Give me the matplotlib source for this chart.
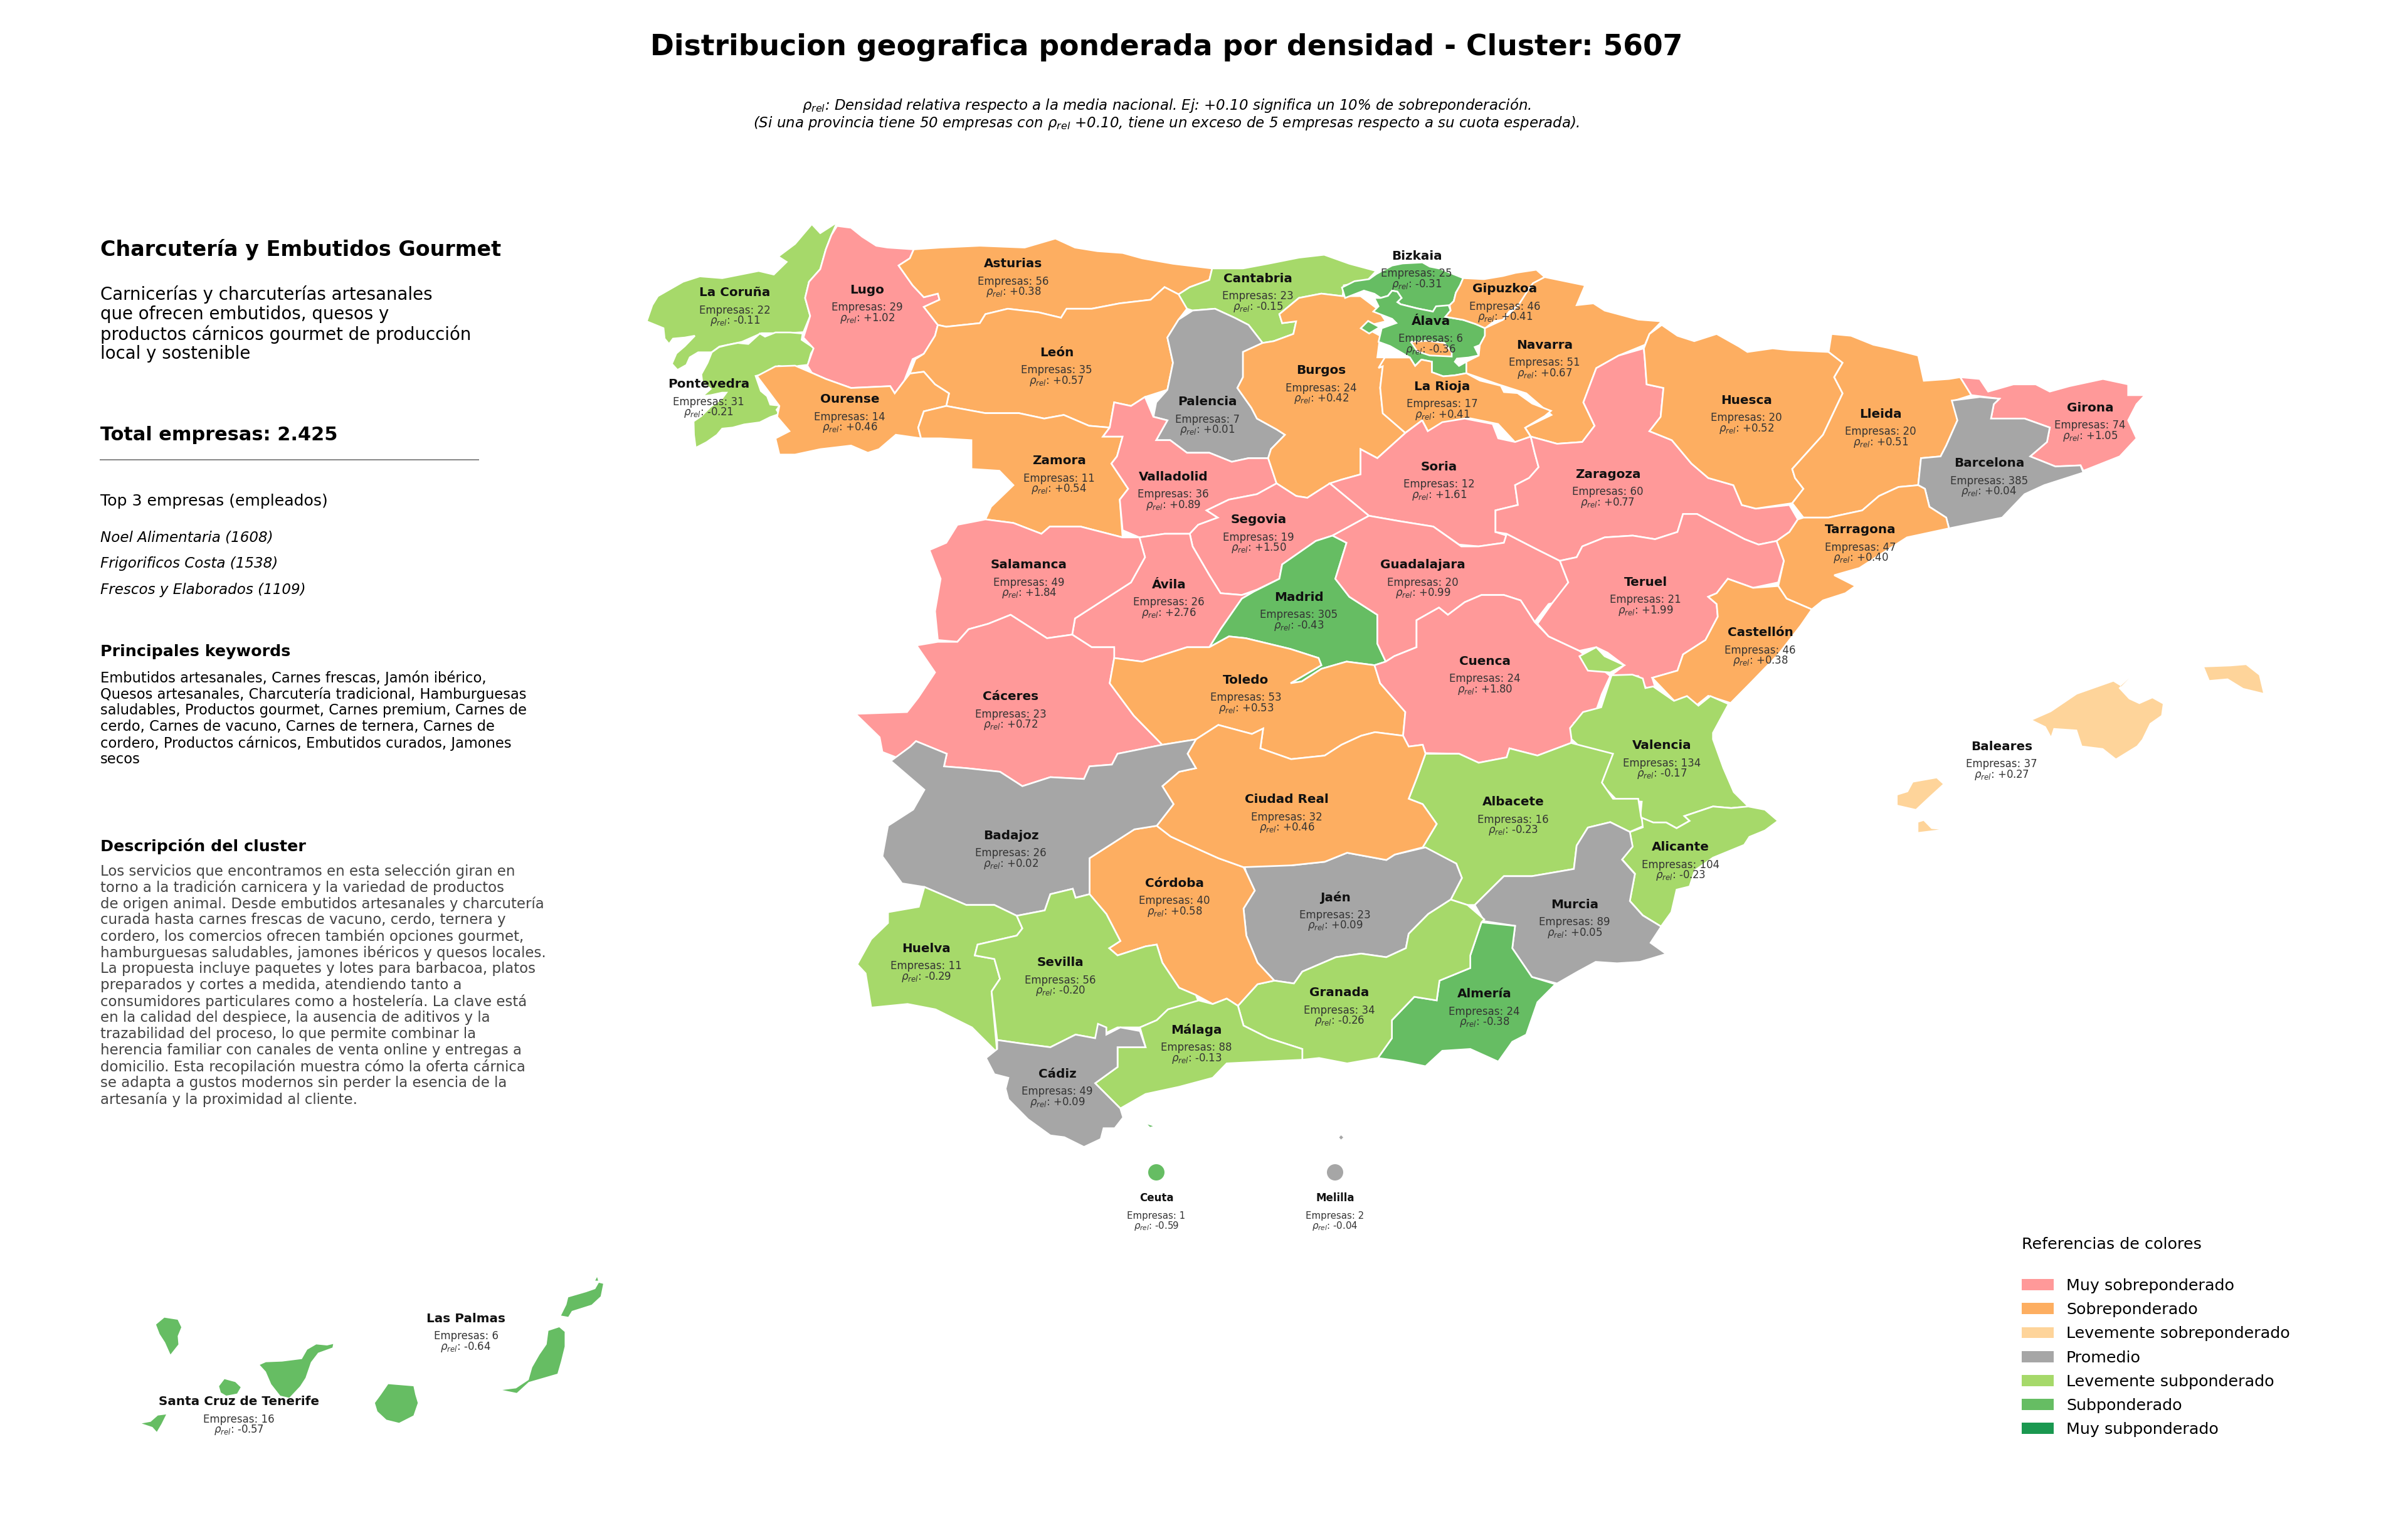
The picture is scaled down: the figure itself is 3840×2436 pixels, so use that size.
import matplotlib
matplotlib.use('Agg')
import matplotlib.pyplot as plt
import numpy as np
from matplotlib.patches import Polygon, Circle, Patch

# map frames the outlines were traced in: x0, y0, x scale, y scale (picture pixels)
NW = (1000, 320, 1.12, 1.742)
NE = (2300, 320, 1.12, 1.742)
SW = (1300, 1150, 1.12, 1.742)
SE = (2400, 1000, 1.206, 1.96)
GAL = (1020, 520, 3, 3)
BASQUE = (2120, 380, 3, 3)
CANARY = (180, 1980, 1.742, 3)
AFRICA = (1700, 1780, 2.613, 3)

# --- values ---
provinces = ['La Coruña', 'Lugo', 'Asturias', 'Cantabria', 'Bizkaia', 'Gipuzkoa', 'Pontevedra', 'Ourense',
             'León', 'Palencia', 'Burgos', 'Álava', 'La Rioja', 'Navarra', 'Zamora', 'Valladolid',
             'Segovia', 'Soria', 'Salamanca', 'Ávila', 'Madrid', 'Guadalajara', 'Toledo', 'Cáceres',
             'Cuenca', 'Huesca', 'Lleida', 'Girona', 'Barcelona', 'Zaragoza', 'Tarragona', 'Teruel',
             'Castellón', 'Valencia', 'Baleares', 'Ciudad Real', 'Albacete', 'Alicante', 'Badajoz', 'Córdoba',
             'Jaén', 'Murcia', 'Huelva', 'Sevilla', 'Granada', 'Almería', 'Málaga', 'Cádiz',
             'Ceuta', 'Melilla', 'Las Palmas', 'Santa Cruz de Tenerife']
empresas = [22, 29, 56, 23, 25, 46, 31, 14,
            35, 7, 24, 6, 17, 51, 11, 36,
            19, 12, 49, 26, 305, 20, 53, 23,
            24, 20, 20, 74, 385, 60, 47, 21,
            46, 134, 37, 32, 16, 104, 26, 40,
            23, 89, 11, 56, 34, 24, 88, 49,
            1, 2, 6, 16]
rho = [-0.11, 1.02, 0.38, -0.15, -0.31, 0.41, -0.21, 0.46,
       0.57, 0.01, 0.42, -0.36, 0.41, 0.67, 0.54, 0.89,
       1.50, 1.61, 1.84, 2.76, -0.43, 0.99, 0.53, 0.72,
       1.80, 0.52, 0.51, 1.05, 0.04, 0.77, 0.40, 1.99,
       0.38, -0.17, 0.27, 0.46, -0.23, -0.23, 0.02, 0.58,
       0.09, 0.05, -0.29, -0.20, -0.26, -0.38, -0.13, 0.09,
       -0.59, -0.04, -0.64, -0.57]

label_x = [1172, 1383, 1616, 2006, 2259, 2400, 1130, 1355,
           1685, 1925, 2107, 2282, 2300, 2463, 1689, 1871,
           2007, 2295, 1641, 1864, 2071, 2269, 1987, 1612,
           2368, 2785, 2999, 3333, 3172, 2564, 2967, 2624,
           2807, 2650, 3192, 2052, 2413, 2680, 1612, 1873,
           2129, 2511, 1477, 1691, 2136, 2367, 1908, 1686,
           1844, 2129, 743, 381]
label_y = [467, 462, 421, 444, 408, 461, 613, 637,
           562, 641, 591, 512, 616, 550, 735, 760,
           829, 744, 901, 932, 952, 901, 1084, 1111,
           1054, 638, 660, 650, 739, 756, 845, 928,
           1009, 1189, 1190, 1275, 1279, 1351, 1332, 1408,
           1431, 1442, 1512, 1535, 1583, 1585, 1642, 1712,
           1910, 1910, 2102, 2235]

bin_edges = [-0.70, -0.30, -0.10, 0.10, 0.30, 0.70]
bin_names = ['Muy subponderado', 'Subponderado', 'Levemente subponderado', 'Promedio',
             'Levemente sobreponderado', 'Sobreponderado', 'Muy sobreponderado']
bin_colors = ['#1a9850', '#66bd63', '#a6d96a', '#a6a6a6', '#fed49a', '#fdae61', '#ff9999']

# --- outlines ---
la_coruna = [(375,60),(365,95),(355,135),(345,190),(325,225),(318,270),(327,320),(315,365),(285,368),(240,368),(205,392),(165,405),(151,421),(127,421),(112,435),(106,456),(90,470),(80,453),(88,424),(103,404),(121,375),(103,380),(82,383),(75,398),(67,383),(65,354),(35,335),(45,290),(55,265),(100,225),(130,210),(170,215),(235,195),(262,205),(285,170),(270,155),(300,120),(330,65),(345,90)]
pontevedra = [(780,35),(775,65),(835,105),(820,130),(805,185),(760,190),(725,200),(665,190),(615,225),(555,238),(580,310),(610,335),(625,375),(670,380),(655,400),(668,420),(625,435),(575,460),(500,470),(445,485),(395,490),(370,520),(320,555),(268,582),(260,520),(258,455),(295,430),(340,385),(395,345),(415,318),(395,318),(340,330),(300,335),(340,300),(300,270),(295,230),(325,175),(345,125),(380,100),(420,90),(470,80),(520,85),(575,35),(600,50),(650,30),(720,30)]
lugo = [(375,70),(400,75),(420,100),(445,125),(465,130),(512,135),(505,160),(485,180),(510,235),(530,268),(555,258),(558,275),(530,295),(555,345),(550,375),(530,425),(510,440),(495,500),(478,535),(470,515),(400,520),(355,495),(330,478),(322,458),(333,410),(315,380),(327,320),(318,270),(325,225),(345,190),(355,135),(365,95)]
asturias = [(512,135),(560,130),(630,125),(710,130),(765,105),(800,130),(840,140),(885,145),(920,160),(975,175),(1045,188),(1040,220),(1005,240),(985,260),(960,240),(935,275),(880,285),(830,300),(785,300),(775,325),(735,310),(680,300),(640,315),(630,340),(570,350),(555,345),(530,295),(558,275),(555,258),(530,268),(510,235),(485,180),(505,160)]
cantabria = [(1045,188),(1100,188),(1145,175),(1200,158),(1245,150),(1290,175),(1338,195),(1320,225),(1280,235),(1278,265),(1240,258),(1200,270),(1165,315),(1170,340),(1195,335),(1190,370),(1155,390),(1135,395),(1110,345),(1085,325),(1050,300),(1010,305),(1000,300),(980,265),(1005,240),(1040,220)]
leon = [(555,345),(570,350),(630,340),(640,315),(680,300),(735,310),(775,325),(785,300),(830,300),(880,285),(935,275),(960,240),(985,260),(1000,300),(985,330),(965,380),(975,450),(965,525),(925,545),(900,570),(870,560),(862,630),(825,625),(780,595),(745,605),(700,590),(640,590),(570,570),(575,535),(550,510),(530,475),(505,480),(515,440),(530,425),(550,375)]
ourense = [(232,487),(265,460),(300,458),(330,478),(355,495),(400,520),(470,515),(478,535),(495,500),(505,480),(530,475),(550,510),(575,535),(570,570),(530,585),(520,630),(525,660),(480,650),(450,690),(430,700),(400,680),(345,690),(300,705),(272,705),(265,660),(290,640),(268,600),(272,570),(248,520)]
zamora = [(570,570),(640,590),(700,590),(745,605),(780,595),(825,625),(862,630),(850,655),(885,655),(875,710),(865,730),(895,800),(880,830),(885,935),(860,925),(810,905),(755,905),(740,925),(690,895),(640,885),(650,850),(690,790),(665,750),(615,745),(615,665),(560,660),(525,660),(520,630),(530,585)]
palencia = [(985,330),(1010,305),(1050,300),(1085,325),(1110,345),(1135,395),(1100,420),(1100,490),(1090,520),(1115,575),(1125,605),(1160,635),(1175,650),(1150,690),(1145,715),(1110,715),(1080,725),(1040,700),(1000,700),(970,665),(945,665),(965,610),(940,600),(945,560),(965,525),(975,450),(965,380)]
valladolid = [(862,630),(870,560),(900,570),(925,545),(940,600),(965,610),(945,665),(970,665),(1000,700),(1040,700),(1080,725),(1110,715),(1145,715),(1160,785),(1125,815),(1075,830),(1035,860),(1055,880),(1020,900),(1005,925),(960,925),(915,935),(885,915),(880,830),(895,800),(865,730),(875,710),(885,655),(850,655)]
burgos = [(1135,395),(1155,390),(1190,370),(1195,335),(1170,340),(1165,315),(1200,270),(1240,258),(1278,265),(1310,265),(1340,300),(1355,335),(1315,350),(1345,375),(1340,435),(1365,435),(1350,460),(1345,520),(1350,590),(1390,645),(1340,715),(1310,690),(1310,760),(1275,775),(1240,800),(1215,825),(1195,820),(1160,785),(1145,715),(1150,690),(1175,650),(1160,635),(1125,605),(1115,575),(1090,520),(1100,490),(1100,420)]
bizkaia = [(60,235),(120,205),(190,195),(225,170),(300,130),(350,120),(445,115),(480,135),(530,145),(590,170),(640,190),(625,225),(605,260),(595,300),(575,320),(580,345),(530,355),(495,350),(420,335),(340,315),(325,300),(345,285),(325,255),(300,250),(280,275),(245,285),(215,265),(165,250),(75,285)]
alava = [(215,285),(245,285),(280,275),(300,250),(325,255),(345,285),(325,305),(340,315),(420,335),(495,350),(510,325),(570,320),(580,345),(555,375),(640,390),(700,410),(745,430),(745,465),(720,510),(695,520),(715,560),(665,570),(610,575),(600,590),(620,610),(655,590),(655,645),(600,655),(545,660),(490,640),(490,590),(440,580),(410,610),(385,570),(290,515),(235,495),(250,430),(320,405),(300,385),(235,360),(210,350),(235,325)]
alava_west = [(150,430),(185,395),(240,425),(190,455)]
trevino = [(390,495),(470,490),(550,500),(585,545),(585,565),(480,560),(420,540)]
gipuzkoa = [(640,190),(740,195),(830,180),(890,165),(990,150),(1030,185),(1005,200),(975,215),(955,240),(930,285),(905,320),(860,350),(830,390),(790,395),(745,430),(700,410),(640,390),(555,375),(580,345),(575,320),(595,300),(605,260),(625,225)]
navarra = [(183,212),(255,235),(240,290),(270,285),(290,305),(350,330),(392,335),(370,370),(362,400),(315,430),(275,465),(252,560),(272,625),(250,670),(205,675),(158,655),(148,630),(195,595),(150,535),(100,510),(43,479),(43,447),(65,430),(67,401),(76,375),(76,354),(108,331),(136,290),(155,244),(162,229)]
la_rioja = [(265,570),(385,570),(410,610),(440,580),(490,590),(490,640),(545,660),(600,655),(655,645),(720,680),(820,705),(835,735),(900,740),(970,790),(1060,825),(1030,850),(936,906),(963,948),(888,975),(807,888),(675,861),(600,870),(540,921),(471,921),(444,870),(363,930),(255,837),(243,714),(255,612),(235,620)]
soria = [(1390,645),(1420,610),(1430,640),(1456,615),(1496,605),(1546,620),(1556,660),(1586,670),(1614,655),(1621,700),(1628,740),(1611,770),(1586,790),(1591,845),(1551,860),(1551,920),(1571,930),(1566,950),(1521,960),(1486,955),(1440,905),(1380,890),(1325,875),(1290,830),(1255,785),(1275,775),(1310,760),(1310,690),(1340,715)]
segovia = [(1160,785),(1195,820),(1215,825),(1240,800),(1255,785),(1290,830),(1325,875),(1260,930),(1230,945),(1170,1010),(1165,1050),(1125,1080),(1098,1095),(1060,1090),(1040,1040),(1010,960),(1005,925),(1020,900),(1055,880),(1035,860),(1075,830),(1125,815)]
avila = [(915,935),(960,925),(1005,925),(1010,960),(1040,1040),(1060,1090),(1098,1095),(1120,1085),(1098,1105),(1060,1190),(1040,1240),(1000,1240),(920,1280),(870,1270),(870,1240),(830,1240),(795,1205),(800,1160),(860,1100),(900,1060),(925,990)]
madrid = [(1260,930),(1285,950),(1265,1050),(1290,1100),(1340,1150),(1340,1230),(1355,1280),(1335,1290),(1285,1280),(1240,1300),(1205,1335),(1185,1340),(1240,1290),(1235,1270),(1185,1245),(1105,1215),(1075,1210),(1040,1240),(1060,1190),(1098,1105),(1120,1085),(1165,1050),(1170,1010),(1230,945)]
salamanca = [(640,885),(690,895),(740,925),(755,905),(810,905),(860,925),(885,935),(915,935),(925,990),(900,1060),(860,1100),(800,1160),(795,1205),(750,1215),(720,1185),(685,1150),(645,1175),(610,1190),(590,1225),(555,1220),(550,1140),(560,1050),(540,970),(570,950),(590,900)]
caceres = [(517,1235),(555,1225),(590,1225),(610,1190),(645,1175),(685,1150),(720,1185),(750,1215),(795,1205),(830,1240),(870,1240),(870,1270),(862,1340),(905,1430),(956,1511),(876,1536),(866,1566),(826,1571),(816,1606),(756,1601),(706,1626),(666,1586),(606,1576),(566,1571),(571,1536),(516,1501),(506,1516),(481,1546),(456,1531),(451,1490),(408,1425),(500,1420),(520,1380),(550,1310)]
toledo = [(870,1270),(920,1280),(1000,1240),(1040,1240),(1075,1210),(1105,1215),(1185,1245),(1235,1270),(1240,1290),(1185,1340),(1205,1335),(1240,1300),(1285,1280),(1335,1290),(1345,1340),(1390,1420),(1386,1486),(1336,1476),(1311,1486),(1276,1511),(1246,1541),(1186,1551),(1131,1521),(1136,1466),(1116,1481),(1056,1456),(1016,1496),(956,1511),(905,1430),(862,1340)]
guadalajara = [(1325,875),(1380,890),(1440,905),(1490,960),(1521,960),(1566,950),(1571,925),(1621,965),(1666,1000),(1681,1060),(1676,1110),(1646,1120),(1621,1170),(1596,1110),(1566,1095),(1526,1095),(1496,1115),(1466,1150),(1450,1130),(1410,1165),(1410,1240),(1370,1265),(1355,1280),(1340,1230),(1340,1150),(1290,1100),(1265,1050),(1285,950),(1260,930)]
cuenca = [(1335,1290),(1355,1280),(1370,1265),(1410,1240),(1410,1165),(1450,1130),(1466,1150),(1496,1115),(1526,1095),(1566,1095),(1596,1110),(1621,1170),(1646,1210),(1701,1250),(1756,1320),(1741,1370),(1731,1415),(1691,1450),(1686,1506),(1626,1541),(1576,1521),(1571,1546),(1521,1561),(1486,1536),(1426,1534),(1421,1511),(1396,1516),(1386,1486),(1390,1420),(1345,1340)]
zaragoza = [(360,410),(362,445),(365,510),(395,520),(390,600),(370,640),(410,665),(445,730),(475,770),(520,790),(535,845),(560,855),(620,845),(635,885),(620,920),(597,945),(565,955),(540,940),(485,895),(455,870),(430,870),(420,920),(380,940),(340,930),(290,935),(250,960),(240,990),(210,1000),(165,965),(115,925),(95,920),(95,860),(135,845),(130,790),(155,770),(172,740),(165,700),(158,655),(205,675),(250,670),(272,625),(252,560),(275,465),(315,430)]
huesca = [(392,345),(420,375),(450,390),(490,370),(530,405),(545,420),(590,410),(620,415),(690,420),(715,450),(700,490),(715,535),(680,650),(625,745),(630,770),(645,800),(625,840),(560,855),(535,845),(520,790),(475,770),(445,730),(410,665),(370,640),(390,600),(395,520),(365,510),(362,445),(360,410),(370,370)]
lleida = [(695,370),(730,375),(770,400),(800,410),(850,430),(860,500),(905,495),(925,490),(945,540),(915,555),(920,610),(900,680),(890,710),(855,715),(850,790),(815,795),(780,820),(750,860),(690,880),(645,880),(625,840),(645,800),(630,770),(625,745),(680,650),(715,535),(700,490),(715,450),(690,420)]
girona = [(925,490),(960,495),(975,530),(1020,510),(1060,510),(1085,530),(1120,515),(1180,495),(1225,510),(1225,540),(1255,540),(1240,565),(1225,610),(1240,660),(1210,710),(1145,750),(1140,735),(1095,738),(1050,710),(1080,670),(1085,630),(1040,605),(980,605),(985,565),(995,550),(945,540)]
barcelona = [(910,555),(960,545),(995,550),(985,565),(980,605),(1040,605),(1085,630),(1080,670),(1050,710),(1095,738),(1140,735),(1145,755),(1075,790),(1040,815),(1000,880),(905,910),(900,880),(870,850),(862,800),(850,790),(855,715),(890,710),(900,680),(920,610)]
tarragona = [(645,880),(690,880),(750,860),(780,820),(815,795),(850,790),(862,800),(870,850),(900,880),(905,910),(830,935),(790,975),(745,1020),(700,1040),(738,1070),(720,1090),(680,1110),(660,1135),(615,1105),(600,1070),(610,1000),(597,945),(620,920),(635,885)]
teruel = [(210,1000),(240,990),(250,960),(290,935),(340,930),(380,940),(420,920),(430,870),(455,870),(485,895),(540,940),(565,955),(597,945),(610,1000),(600,1060),(555,1075),(510,1050),(490,1090),(475,1100),(490,1120),(492,1155),(470,1220),(430,1260),(420,1305),(375,1325),(380,1350),(365,1355),(350,1320),(300,1320),(325,1290),(295,1255),(275,1240),(245,1250),(190,1210),(170,1175),(195,1120),(225,1060)]
ademuz = [(245,1265),(275,1240),(290,1265),(325,1290),(300,1310),(260,1305)]
castellon = [(510,1050),(555,1075),(600,1070),(615,1105),(660,1135),(640,1180),(600,1260),(550,1340),(515,1395),(475,1375),(455,1400),(430,1380),(415,1390),(375,1325),(420,1305),(430,1260),(470,1220),(492,1155),(490,1120),(475,1100),(490,1090)]
valencia = [(205,150),(245,148),(265,160),(270,190),(285,185),(325,230),(350,215),(372,245),(395,215),(430,240),(400,330),(400,350),(420,440),(440,515),(468,560),(435,565),(400,560),(345,590),(355,605),(330,628),(310,610),(285,610),(260,595),(263,545),(215,540),(185,490),(205,400),(175,385),(145,375),(128,350),(125,315),(150,265),(185,250)]
albacete = [(1090,90),(1150,90),(1185,115),(1235,100),(1240,75),(1290,95),(1350,60),(1425,90),(1405,170),(1425,215),(1470,215),(1475,265),(1480,290),(1455,307),(1420,280),(1380,295),(1360,345),(1355,410),(1280,430),(1230,430),(1178,510),(1165,510),(1135,495),(1155,435),(1145,395),(1085,350),(1110,285),(1085,230),(1060,215),(1075,155)]
alicante = [(263,595),(285,610),(310,610),(330,628),(355,605),(345,590),(400,560),(435,565),(468,560),(500,570),(525,605),(500,635),(470,655),(460,680),(400,720),(365,760),(355,810),(330,820),(320,890),(300,935),(265,900),(240,855),(250,770),(225,725),(245,685),(240,640),(265,625)]
murcia = [(1455,307),(1460,348),(1441,384),(1464,424),(1455,499),(1478,539),(1511,570),(1492,615),(1520,646),(1473,668),(1432,672),(1394,668),(1362,695),(1325,728),(1280,710),(1245,630),(1250,568),(1195,555),(1178,510),(1230,430),(1280,430),(1355,410),(1360,345),(1380,295),(1420,280)]
almeria = [(1190,558),(1250,568),(1245,630),(1280,710),(1322,730),(1290,780),(1270,870),(1245,890),(1220,945),(1170,910),(1120,915),(1090,958),(1050,945),(1005,935),(1030,880),(1030,830),(1070,765),(1110,775),(1115,720),(1170,685),(1170,650)]
jaen = [(765,395),(850,400),(910,390),(950,365),(1020,385),(1035,370),(1090,350),(1145,395),(1155,435),(1135,495),(1095,535),(1060,590),(1055,630),(1020,655),(975,645),(930,655),(870,695),(855,728),(820,720),(790,670),(770,595),(765,520),(785,470),(770,420)]
granada = [(870,695),(930,655),(975,645),(1020,655),(1055,630),(1060,590),(1095,535),(1135,495),(1165,510),(1195,550),(1190,558),(1170,650),(1170,685),(1115,720),(1110,775),(1070,765),(1030,830),(1030,880),(1005,935),(950,950),(900,935),(870,940),(870,910),(810,880),(765,845),(755,790),(790,730),(820,720),(855,728)]
cordoba = [(610,290),(635,320),(670,345),(720,380),(765,405),(770,420),(785,470),(765,520),(770,595),(790,670),(820,720),(790,730),(755,790),(735,770),(710,785),(680,760),(650,740),(620,670),(610,620),(590,625),(540,650),(525,630),(545,610),(520,535),(490,480),(490,380),(525,345),(570,300)]
ciudad_real = [(680,50),(720,10),(780,35),(800,20),(795,75),(850,105),(910,95),(940,65),(975,40),(1000,30),(1050,40),(1060,70),(1085,65),(1090,90),(1075,155),(1060,215),(1085,230),(1110,285),(1085,350),(1035,370),(1020,385),(950,365),(910,390),(850,400),(765,405),(720,380),(670,345),(635,320),(610,290),(640,230),(620,180),(650,140),(680,130),(665,90)]
badajoz = [(135,110),(170,70),(180,55),(235,90),(230,125),(270,130),(330,140),(370,180),(420,155),(480,160),(490,125),(530,120),(540,90),(620,65),(680,50),(665,90),(680,130),(650,140),(620,180),(640,230),(610,290),(570,300),(525,345),(490,380),(490,480),(465,490),(460,465),(420,480),(410,525),(360,540),(320,510),(270,510),(225,480),(195,460),(155,450),(120,375),(130,290),(175,245),(195,190)]
huelva = [(195,460),(225,480),(270,510),(320,510),(360,540),(370,575),(360,595),(290,620),(285,650),(320,660),(330,715),(315,750),(325,920),(280,850),(215,800),(165,785),(100,795),(90,700),(75,675),(100,605),(130,560),(130,530),(185,515)]
sevilla = [(360,540),(410,525),(420,480),(460,465),(465,490),(490,480),(520,535),(545,610),(525,630),(540,650),(590,625),(610,620),(620,670),(650,740),(680,760),(685,780),(630,800),(610,830),(580,850),(540,850),(500,880),(465,870),(420,905),(370,895),(325,885),(315,750),(330,715),(320,660),(285,650),(290,620),(360,595),(370,575)]
malaga = [(685,775),(710,785),(735,770),(755,790),(765,845),(810,880),(870,910),(870,940),(800,945),(735,950),(710,990),(650,1015),(590,1035),(545,1075),(500,1005),(540,960),(540,905),(590,905),(580,850),(610,830),(630,800)]
cadiz = [(325,885),(370,895),(420,905),(465,870),(500,880),(505,840),(520,850),(520,870),(545,850),(580,860),(590,905),(540,905),(540,960),(500,1005),(545,1075),(550,1100),(535,1130),(515,1130),(510,1160),(480,1182),(445,1155),(420,1150),(380,1105),(345,1050),(340,1020),(345,990),(320,980),(305,935),(325,910)]
mallorca = [(1015,290),(1050,265),(1100,210),(1170,170),(1185,185),(1200,160),(1180,190),(1200,225),(1220,240),(1245,222),(1265,240),(1262,275),(1240,300),(1225,350),(1215,370),(1175,410),(1150,378),(1110,370),(1100,320),(1055,315),(1050,340),(1040,310)]
menorca = [(1345,125),(1395,122),(1425,118),(1450,150),(1458,205),(1420,190),(1390,160),(1355,165)]
ibiza = [(755,525),(775,515),(785,485),(830,472),(842,490),(815,530),(790,568),(755,555)]
formentera = [(795,610),(805,605),(820,630),(835,632),(795,640)]
ceuta_isle = [(340,38),(362,46),(350,50)]
melilla_isle = [(1146,90),(1155,100),(1146,110),(1138,100)]
el_hierro = [(80,868),(105,860),(125,830),(148,825),(135,870),(122,908),(110,885)]
la_palma = [(120,395),(143,362),(180,372),(190,408),(180,450),(182,490),(160,538),(145,480),(130,440)]
la_gomera = [(295,690),(310,656),(340,670),(355,695),(345,725),(315,735),(300,720)]
tenerife = [(408,588),(425,575),(470,572),(525,560),(540,515),(565,490),(595,495),(612,488),(610,505),(570,530),(550,575),(535,650),(520,690),(490,745),(465,735),(440,680),(425,620)]
gran_canaria = [(728,770),(745,730),(765,680),(800,685),(835,690),(840,730),(847,770),(835,830),(795,865),(760,850),(735,810)]
fuerteventura = [(1082,708),(1120,700),(1155,660),(1165,600),(1185,540),(1205,490),(1210,425),(1240,408),(1255,430),(1255,500),(1245,570),(1235,630),(1155,670),(1122,722)]
lanzarote = [(1245,352),(1260,300),(1265,265),(1315,240),(1340,225),(1350,195),(1362,200),(1355,260),(1330,300),(1275,330),(1265,358)]
graciosa = [(1340,185),(1345,168),(1348,185)]

# province -> rings, later rows are painted on top of earlier ones
outlines = [
    ('La Coruña', NW, la_coruna), ('Pontevedra', GAL, pontevedra), ('Lugo', NW, lugo), ('Asturias', NW, asturias),
    ('Cantabria', NW, cantabria), ('León', NW, leon), ('Ourense', NW, ourense), ('Zamora', NW, zamora),
    ('Palencia', NW, palencia), ('Valladolid', NW, valladolid), ('Burgos', NW, burgos), ('Bizkaia', BASQUE, bizkaia),
    ('Álava', BASQUE, alava), ('Álava', BASQUE, alava_west), ('Burgos', BASQUE, trevino), ('Gipuzkoa', BASQUE, gipuzkoa),
    ('Navarra', NE, navarra), ('La Rioja', BASQUE, la_rioja), ('Soria', NW, soria), ('Segovia', NW, segovia),
    ('Ávila', NW, avila), ('Madrid', NW, madrid), ('Salamanca', NW, salamanca), ('Cáceres', NW, caceres),
    ('Toledo', NW, toledo), ('Guadalajara', NW, guadalajara), ('Cuenca', NW, cuenca), ('Zaragoza', NE, zaragoza),
    ('Huesca', NE, huesca), ('Lleida', NE, lleida), ('Girona', NE, girona), ('Barcelona', NE, barcelona),
    ('Tarragona', NE, tarragona), ('Teruel', NE, teruel), ('Valencia', NE, ademuz), ('Castellón', NE, castellon),
    ('Valencia', SE, valencia), ('Albacete', SW, albacete), ('Alicante', SE, alicante), ('Murcia', SW, murcia),
    ('Almería', SW, almeria), ('Jaén', SW, jaen), ('Granada', SW, granada), ('Córdoba', SW, cordoba),
    ('Ciudad Real', SW, ciudad_real), ('Badajoz', SW, badajoz), ('Huelva', SW, huelva), ('Sevilla', SW, sevilla),
    ('Málaga', SW, malaga), ('Cádiz', SW, cadiz), ('Baleares', SE, mallorca), ('Baleares', SE, menorca),
    ('Baleares', SE, ibiza), ('Baleares', SE, formentera), ('Ceuta', AFRICA, ceuta_isle), ('Melilla', AFRICA, melilla_isle),
    ('Santa Cruz de Tenerife', CANARY, el_hierro), ('Santa Cruz de Tenerife', CANARY, la_palma),
    ('Santa Cruz de Tenerife', CANARY, la_gomera), ('Santa Cruz de Tenerife', CANARY, tenerife),
    ('Las Palmas', CANARY, gran_canaria), ('Las Palmas', CANARY, fuerteventura),
    ('Las Palmas', CANARY, lanzarote), ('Las Palmas', CANARY, graciosa),
]
islands = ['Baleares', 'Ceuta', 'Melilla', 'Santa Cruz de Tenerife', 'Las Palmas']

# --- side texts ---
side_title = 'Charcutería y Embutidos Gourmet'
side_sub = ['Carnicerías y charcuterías artesanales', 'que ofrecen embutidos, quesos y',
            'productos cárnicos gourmet de producción', 'local y sostenible']
top_firms = ['Noel Alimentaria (1608)', 'Frigorificos Costa (1538)', 'Frescos y Elaborados (1109)']
keywords = ['Embutidos artesanales, Carnes frescas, Jamón ibérico,',
            'Quesos artesanales, Charcutería tradicional, Hamburguesas',
            'saludables, Productos gourmet, Carnes premium, Carnes de',
            'cerdo, Carnes de vacuno, Carnes de ternera, Carnes de',
            'cordero, Productos cárnicos, Embutidos curados, Jamones',
            'secos']
description = ['Los servicios que encontramos en esta selección giran en',
               'torno a la tradición carnicera y la variedad de productos',
               'de origen animal. Desde embutidos artesanales y charcutería',
               'curada hasta carnes frescas de vacuno, cerdo, ternera y',
               'cordero, los comercios ofrecen también opciones gourmet,',
               'hamburguesas saludables, jamones ibéricos y quesos locales.',
               'La propuesta incluye paquetes y lotes para barbacoa, platos',
               'preparados y cortes a medida, atendiendo tanto a',
               'consumidores particulares como a hostelería. La clave está',
               'en la calidad del despiece, la ausencia de aditivos y la',
               'trazabilidad del proceso, lo que permite combinar la',
               'herencia familiar con canales de venta online y entregas a',
               'domicilio. Esta recopilación muestra cómo la oferta cárnica',
               'se adapta a gustos modernos sin perder la esencia de la',
               'artesanía y la proximidad al cliente.']


def to_map(frame, pts):
    x0, y0, fx, fy = frame
    return [(x0 + x / fx, y0 + y / fy) for x, y in pts]


def colour_of(name):
    return bin_colors[np.digitize(rho[provinces.index(name)], bin_edges)]


fig, ax = plt.subplots(figsize=(16, 10.15), dpi=240)
fig.subplots_adjust(0, 0, 1, 1)
ax.set_xlim(0, 3840)
ax.set_ylim(2436, 0)
ax.axis('off')

for name, frame, pts in outlines:
    # the white edge would eat the thin islands
    edge = 'none' if name in islands else 'white'
    ax.add_patch(Polygon(to_map(frame, pts), closed=True, facecolor=colour_of(name),
                         edgecolor=edge, linewidth=0.8))

# ceuta and melilla get a marker of their own, the real shapes are tiny
for name in ['Ceuta', 'Melilla']:
    i = provinces.index(name)
    ax.add_patch(Circle((label_x[i], label_y[i] - 41), 13, facecolor=colour_of(name), edgecolor='none'))

for i, name in enumerate(provinces):
    small = name in ('Ceuta', 'Melilla')
    ax.text(label_x[i], label_y[i], name, ha='center', va='center', fontweight='bold',
            fontsize=5 if small else 6, color='#111111', zorder=5)
    ax.text(label_x[i], label_y[i] + 28, f'Empresas: {empresas[i]}', ha='center', va='center',
            fontsize=4.5 if small else 5, color='#333333', zorder=5)
    ax.text(label_x[i], label_y[i] + 45, rf'$\rho_{{rel}}$: {rho[i]:+.2f}', ha='center', va='center',
            fontsize=4.5 if small else 5, color='#333333', zorder=5)

# header
ax.text(1860, 75, 'Distribucion geografica ponderada por densidad - Cluster: 5607', ha='center', va='center',
        fontsize=13.7, fontweight='bold')
ax.text(1860, 168, r'$\rho_{rel}$: Densidad relativa respecto a la media nacional. Ej: +0.10 significa un 10% de sobreponderación.',
        ha='center', va='center', fontsize=6.85, style='italic')
ax.text(1860, 197, r'(Si una provincia tiene 50 empresas con $\rho_{rel}$ +0.10, tiene un exceso de 5 empresas respecto a su cuota esperada).',
        ha='center', va='center', fontsize=6.85, style='italic')

# left panel
left = 160
ax.text(left, 398, side_title, va='center', fontsize=10, fontweight='bold')
for y, line in zip([470, 501, 533, 564], side_sub):
    ax.text(left, y, line, va='center', fontsize=8.3)
ax.text(left, 694, 'Total empresas: 2.425', va='center', fontsize=9.1, fontweight='bold')
ax.plot([left, 763], [733, 733], color='#888888', linewidth=0.6)
ax.text(left, 799, 'Top 3 empresas (empleados)', va='center', fontsize=7.55)
for y, line in zip([857, 899, 941], top_firms):
    ax.text(left, y, line, va='center', fontsize=6.9, style='italic')
ax.text(left, 1039, 'Principales keywords', va='center', fontsize=7.6, fontweight='bold')
for k, line in enumerate(keywords):
    ax.text(left, 1081 + 25.9 * k, line, va='center', fontsize=6.8)
ax.text(left, 1349, 'Descripción del cluster', va='center', fontsize=7.6, fontweight='bold')
for k, line in enumerate(description):
    ax.text(left, 1389 + 26 * k, line, va='center', fontsize=6.85, color='#444444')

# legend
ax.text(3224, 1984, 'Referencias de colores', va='center', fontsize=7.6)
handles = [Patch(facecolor=c, edgecolor='none', label=n) for c, n in zip(bin_colors[::-1], bin_names[::-1])]
ax.legend(handles=handles, fontsize=7.6, frameon=False, labelspacing=0.56,
          loc='upper left', bbox_to_anchor=(3224, 2038), bbox_transform=ax.transData,
          borderpad=0, borderaxespad=0)

fig.savefig('out.png', dpi=240, facecolor='white')
